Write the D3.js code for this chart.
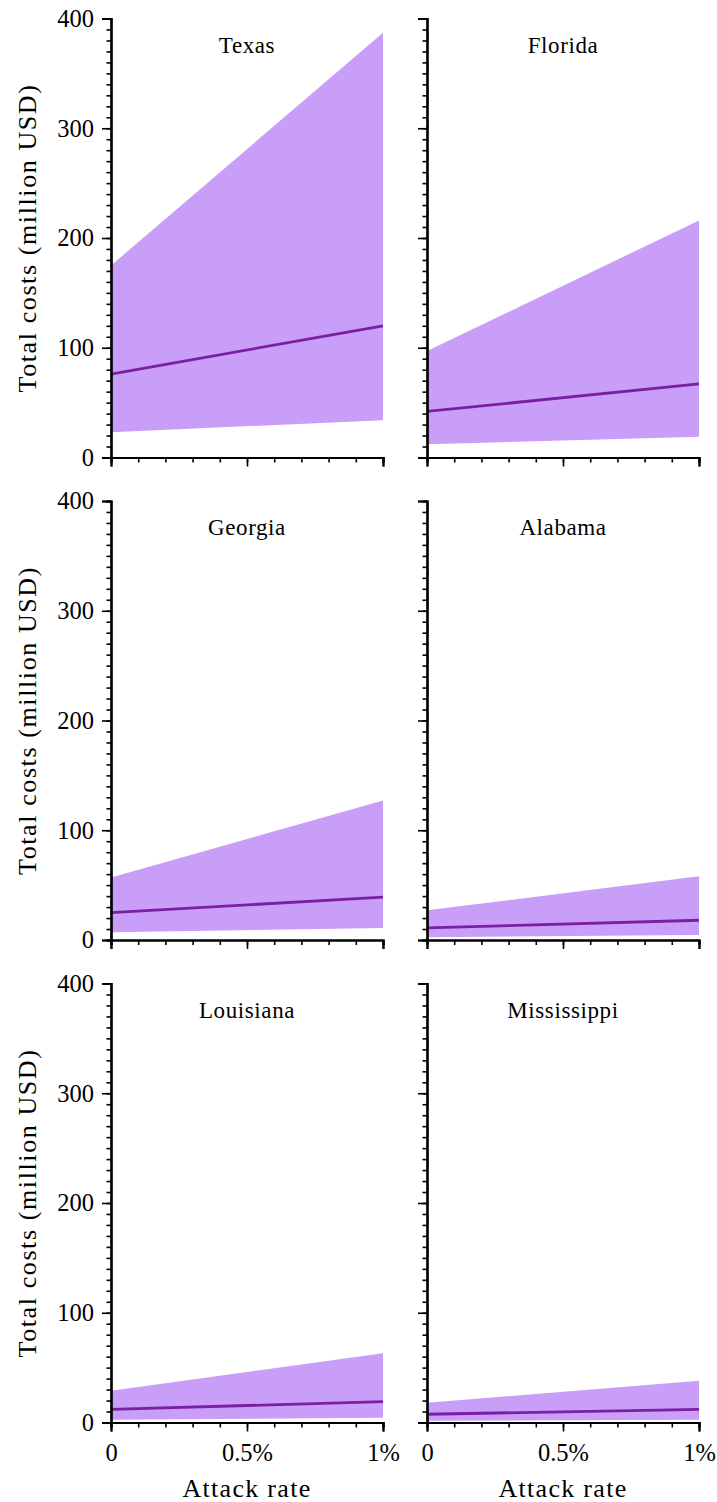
<!DOCTYPE html>
<html><head><meta charset="utf-8">
<script src="https://cdn.jsdelivr.net/npm/d3@7"></script>
<style>body{margin:0;background:#fff}svg{display:block}svg text{font-family:'Liberation Serif','Times New Roman',serif !important;fill:#000}</style>
</head><body>
<script>
const states = ["Texas","Florida","Georgia","Alabama","Louisiana","Mississippi"];
const attackRates = [0, 0.01];
const upperValues = [[175,387],[97,216],[57,127],[27,58],[29,63],[18,38]];
const medianValues = [[76,120],[42,67],[25,39],[11,18],[12,19],[7.5,12]];
const lowerValues = [[23,34],[12,19],[7,11],[2.5,4.5],[2.5,4.3],[1.5,2.5]];
const yTicks = [0,100,200,300,400];
const xTickValues = [0,0.005,0.01];
const xTickLabels = ["0","0.5%","1%"];

const W=717,H=1502;
const svg=d3.select("body").append("svg").attr("width",W).attr("height",H)
  .attr("font-family","'Liberation Serif', serif");
const colX=[111,427], pw=272;
const rowTop=[18.5,501,983.5], ph=439;
const fillC="#c99ef8", lineC="#7b1fa2";

states.forEach((name,i)=>{
  const col=i%2,row=Math.floor(i/2);
  const g=svg.append("g").attr("transform",`translate(${colX[col]},${rowTop[row]})`);
  const x=d3.scaleLinear().domain([0,0.01]).range([0,pw]);
  const y=d3.scaleLinear().domain([0,400]).range([ph,0]);
  const pts=attackRates.map((r,k)=>({r,u:upperValues[i][k],m:medianValues[i][k],l:lowerValues[i][k]}));
  g.append("path").datum(pts).attr("fill",fillC)
    .attr("d",d3.area().x(d=>x(d.r)).y0(d=>y(d.l)).y1(d=>y(d.u)));
  g.append("path").datum(pts).attr("fill","none").attr("stroke",lineC).attr("stroke-width",2.8)
    .attr("d",d3.line().x(d=>x(d.r)).y(d=>y(d.m)));
  const yMinor=d3.range(0,401,10);
  g.append("g").call(d3.axisLeft(y).tickValues(yMinor).tickSize(4.5).tickFormat(""));
  g.append("g").call(d3.axisLeft(y).tickValues(yTicks).tickSize(9).tickPadding(8)
     .tickFormat(col===0?d3.format("d"):()=>"" ));
  const xMinor=d3.range(0,11).map(k=>k*0.001);
  g.append("g").attr("transform",`translate(0,${ph})`).call(d3.axisBottom(x).tickValues(xMinor).tickSize(5).tickFormat(""));
  g.append("g").attr("transform",`translate(0,${ph})`).call(d3.axisBottom(x).tickValues(xTickValues).tickSize(9).tickPadding(12)
     .tickFormat((d,k)=>row===2?xTickLabels[k]:""));
  g.selectAll("g").attr("font-family","'Liberation Serif', serif");
  g.selectAll(".domain").attr("stroke","#000").attr("stroke-width",2.2);
  g.selectAll(".tick line").attr("stroke","#000").attr("stroke-width",1.6);
  g.selectAll(".tick text").attr("font-size",24.5).attr("fill","#000");
  g.append("text").attr("x",pw/2).attr("y",34).attr("text-anchor","middle")
    .attr("font-size",23).attr("letter-spacing",0.6).text(name);
  if(col===0){
    g.append("text").attr("transform",`translate(${36-colX[0]},${ph/2}) rotate(-90)`).attr("text-anchor","middle")
     .attr("font-size",26).attr("letter-spacing",1.6).text("Total costs (million USD)");
  }
  if(row===2){
    g.append("text").attr("x",pw/2).attr("y",ph+74).attr("text-anchor","middle")
     .attr("font-size",26).attr("letter-spacing",1.3).text("Attack rate");
  }
});
</script>
</body></html>
